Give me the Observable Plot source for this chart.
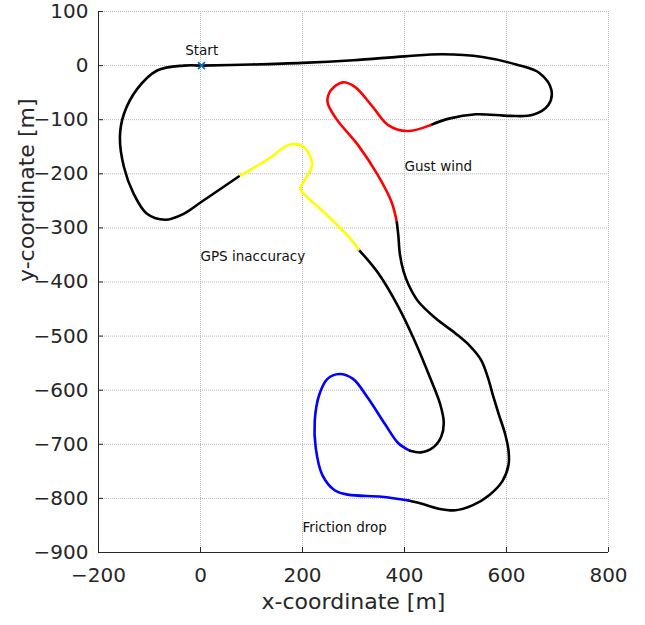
<!DOCTYPE html>
<html><head><meta charset="utf-8">
<script src="https://cdn.jsdelivr.net/npm/d3@7"></script>
<script src="https://cdn.jsdelivr.net/npm/@observablehq/plot@0.6"></script>
<style>body{margin:0;background:#fff;}</style>
</head><body><div id="chart"></div>
<script>
// ---- data (metres) ----
const xTicks = [-200, 0, 200, 400, 600, 800];
const yTicks = [100, 0, -100, -200, -300, -400, -500, -600, -700, -800, -900];

// track sections in driving order
const blackStart = [[0,0],[100,2],[200,5],[300,10],[400,17],[474,21],[553,16],[619,2],[665,-14],[688,-45],[682,-73],[652,-91],[606,-93],[540,-90],[487,-98],[451,-110]];
const gustWind = [[451,-110],[405,-121],[368,-110],[335,-73],[302,-39],[279,-31],[256,-45],[249,-67],[266,-98],[309,-147],[348,-203],[375,-253],[385,-290]];
const blackMiddle = [[385,-290],[388,-315],[391,-349],[398,-380],[408,-405],[427,-436],[461,-467],[500,-495],[528,-518],[550,-544],[563,-575],[573,-608],[585,-645],[597,-680],[604,-712],[604,-738],[592,-768],[566,-794],[533,-813],[500,-822],[467,-819],[434,-810],[408,-804]];
const frictionDrop = [[408,-804],[355,-797],[289,-793],[263,-785],[239,-757],[226,-707],[224,-657],[233,-608],[249,-579],[272,-570],[299,-579],[328,-614],[362,-663],[388,-698],[411,-712]];
const blackReturn = [[411,-712],[432,-715],[456,-706],[472,-686],[477,-660],[470,-626],[451,-579],[421,-511],[388,-446],[348,-383],[310,-340]];
const gpsInaccuracy = [[310,-340],[294,-320],[242,-271],[209,-243],[196,-228],[206,-209],[219,-182],[203,-151],[176,-146],[131,-174],[75,-205]];
const blackEnd = [[75,-205],[0,-253],[-33,-274],[-69,-285],[-105,-274],[-131,-237],[-150,-188],[-158,-132],[-150,-89],[-124,-43],[-85,-9],[-33,0],[0,0]];

const startPoint = [[2, 0]];

const labelText = ["Start", "Gust wind", "GPS inaccuracy", "Friction drop"];
const labelX = [-30, 400, 0, 200];
const labelY = [28, -186, -353, -855];

// ---- marks ----
const sections = [
  {pts: blackStart, color: "#000000"},
  {pts: gustWind, color: "#ff0000"},
  {pts: blackMiddle, color: "#000000"},
  {pts: frictionDrop, color: "#0000ff"},
  {pts: blackReturn, color: "#000000"},
  {pts: gpsInaccuracy, color: "#ffff00"},
  {pts: blackEnd, color: "#000000"}
];

const labels = labelText.map((t, i) => ({t, x: labelX[i], y: labelY[i]}));

const font = "DejaVu Sans, Liberation Sans, Arial, sans-serif";
const ink = "#262626";

const chart = Plot.plot({
  width: 645,
  height: 625,
  marginLeft: 98,
  marginRight: 37,
  marginTop: 11,
  marginBottom: 73,
  style: {fontFamily: font, background: "#fff", overflow: "visible"},
  x: {domain: [-200, 800]},
  y: {domain: [-900, 100]},
  marks: [
    Plot.gridX(xTicks, {stroke: "#b8b8b8", strokeOpacity: 1, strokeDasharray: "1,1"}),
    Plot.gridY(yTicks, {stroke: "#b8b8b8", strokeOpacity: 1, strokeDasharray: "1,1"}),
    ...sections.map(s => Plot.line(s.pts, {x: d => d[0], y: d => d[1], stroke: s.color, strokeWidth: 2.6, curve: "catmull-rom"})),
    Plot.dot(startPoint, {x: d => d[0], y: d => d[1], symbol: "times", r: 3.2, stroke: "#0072BD", strokeWidth: 1.8}),
    Plot.text(labels, {x: "x", y: "y", text: "t", textAnchor: "start", fontSize: 13.5, fill: "#111"}),
    Plot.ruleX([-200], {stroke: ink, strokeWidth: 1}),
    Plot.ruleY([-900], {stroke: ink, strokeWidth: 1}),
    Plot.axisX(xTicks, {anchor: "bottom", tickSize: -5, tickPadding: 20, fontSize: 20, color: ink, label: null, stroke: ink}),
    Plot.axisY(yTicks, {anchor: "left", tickSize: -5, tickPadding: 15, fontSize: 20, color: ink, label: null, stroke: ink}),
    Plot.text(["x-coordinate [m]"], {frameAnchor: "bottom", dy: 56, fontSize: 22, fill: ink}),
    Plot.text(["y-coordinate [m]"], {frameAnchor: "left", dx: -72, rotate: -90, fontSize: 22, fill: ink})
  ]
});
document.getElementById("chart").appendChild(chart);
</script>
</body></html>
